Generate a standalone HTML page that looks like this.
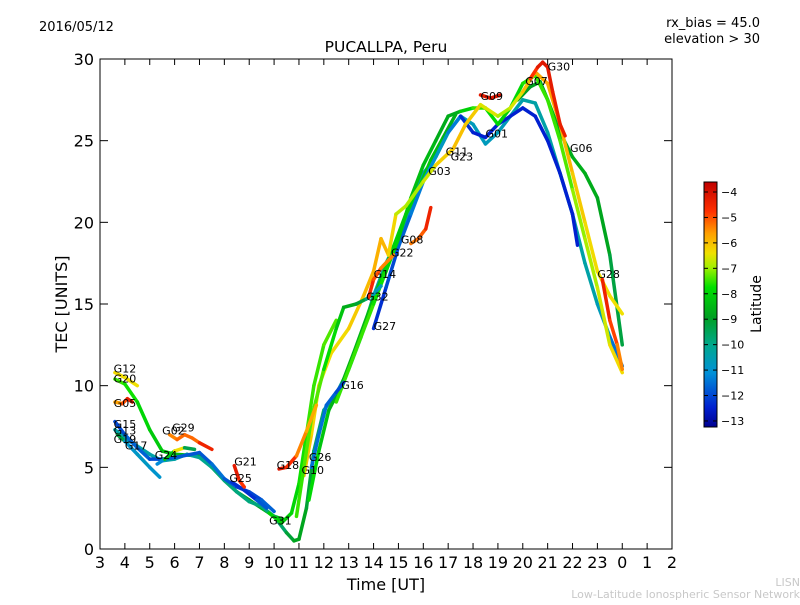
<!DOCTYPE html>
<html><head><meta charset="utf-8"><style>
body{margin:0;background:#fff;}
svg text{font-family:"DejaVu Sans","Liberation Sans",sans-serif;}
</style></head><body>
<svg id="chart" width="800" height="600" xmlns="http://www.w3.org/2000/svg">
<defs>
<linearGradient id="cbg" x1="0" y1="1" x2="0" y2="0">
<stop offset="0" stop-color="#00008f"/>
<stop offset="0.08" stop-color="#0020d0"/>
<stop offset="0.22" stop-color="#0090d8"/>
<stop offset="0.33" stop-color="#00a890"/>
<stop offset="0.45" stop-color="#00a020"/>
<stop offset="0.57" stop-color="#00e000"/>
<stop offset="0.65" stop-color="#a0f000"/>
<stop offset="0.71" stop-color="#f0e000"/>
<stop offset="0.79" stop-color="#ffa000"/>
<stop offset="0.88" stop-color="#ff3000"/>
<stop offset="1" stop-color="#c00000"/>
</linearGradient>
</defs>
<text x="39" y="31" font-size="13">2016/05/12</text>
<text x="760" y="27" font-size="13" text-anchor="end">rx_bias = 45.0</text>
<text x="760" y="43" font-size="13" text-anchor="end">elevation &gt; 30</text>
<text x="386" y="52" font-size="15.5" text-anchor="middle">PUCALLPA, Peru</text>
<g id="marks"></g>
<g id="labels"></g>
<rect x="100" y="59" width="572" height="490" fill="none" stroke="#000" stroke-width="1"/>
<g id="axes"></g>
<text x="386" y="590" font-size="16" text-anchor="middle">Time [UT]</text>
<text transform="translate(67,304) rotate(-90)" font-size="16" text-anchor="middle">TEC [UNITS]</text>
<rect x="704" y="182" width="13" height="245" fill="url(#cbg)" stroke="#000" stroke-width="1"/>
<g id="cbticks"></g>
<text transform="translate(761,304) rotate(-90)" font-size="14" text-anchor="middle">Latitude</text>
<text x="800" y="586" font-size="11" fill="#c8c8c8" text-anchor="end">LISN</text>
<text x="800" y="598" font-size="11" fill="#c8c8c8" text-anchor="end">Low-Latitude Ionospheric Sensor Network</text>
</svg>
<script>
const xTicks=[3,4,5,6,7,8,9,10,11,12,13,14,15,16,17,18,19,20,21,22,23,24,25,26];
const xTickLabels=["3","4","5","6","7","8","9","10","11","12","13","14","15","16","17","18","19","20","21","22","23","0","1","2"];
const yTicks=[0,5,10,15,20,25,30];
const cbTicks=[-4,-5,-6,-7,-8,-9,-10,-11,-12,-13];
// tracks: [time(UT hours), TEC, latitude]
const trackG20=[[3.6,10.4,-8],[4,10.1,-8],[4.5,9,-8.3],[5,7.3,-8.5],[5.5,6,-8.8],[6,5.8,-9],[7,5.7,-9],[7.5,5,-9.2],[8,4.2,-9.5],[8.5,3.5,-9.5],[9,3,-9.5],[9.5,2.5,-9.3],[10,2,-9],[10.4,1.8,-9]];
const trackG19=[[3.6,7.3,-11],[4,6.8,-11],[4.5,6.3,-11],[5,5.8,-11],[5.5,5.4,-11],[6,5.5,-11],[6.5,5.8,-11],[7,5.6,-10.8],[7.5,5,-10.6],[8,4.2,-10.5],[8.5,3.5,-10.5],[9,2.9,-10.5],[9.5,2.6,-10.5],[10,2,-10.5],[10.5,1,-10],[10.8,0.5,-9.5],[11,0.6,-9.3],[11.3,2.5,-9.5],[11.6,6,-10],[12,8.5,-10.5],[12.5,9.5,-11],[13,11,-11],[13.5,13,-11],[14,15.5,-11],[14.5,17.5,-11],[15,19,-11],[15.5,21,-11],[16,23,-11],[16.5,24,-11],[17,25.5,-11],[17.5,26.5,-11.2],[18,26,-11.3],[18.5,24.8,-11.3],[19,25.5,-11.3],[19.5,26.5,-11.2],[20,27.5,-11],[20.5,27.3,-11],[21,25.5,-11],[21.5,23,-11],[22,20.5,-11],[22.5,17.5,-11],[23,15,-11],[23.5,13,-11.5],[24,11.2,-12.5]];
const trackG15=[[3.6,7.8,-12.5],[4,7,-12.3],[4.5,6.2,-12],[5,5.5,-12.3],[5.5,5.5,-12.5],[6,5.6,-12],[7,5.9,-12.5],[7.5,5.2,-12],[8,4.3,-12],[8.5,3.8,-12.5],[9,3.5,-12.5],[9.5,3,-12.3],[10,2.3,-12]];
const trackG17=[[3.7,7,-8.2],[4,6.6,-11.5],[4.5,5.8,-11.5],[5,5,-11.3],[5.4,4.4,-11.8]];
const trackG25=[[8.3,4.1,-12.5],[8.8,3.6,-12.8],[9.3,3,-12.5],[9.7,2.5,-12]];
const trackG31=[[9.8,2.2,-8.5],[10.3,1.6,-8.5],[10.7,2.2,-8.5],[11,4,-8.3],[11.3,7,-8],[11.6,10,-8],[12,12.5,-8],[12.5,14,-7.8]];
const trackG02=[[11.4,3,-8.2],[11.8,6,-8.5],[12.2,8.5,-9],[12.7,10,-9.2],[13.2,12,-9.2],[13.8,14.5,-9],[14.3,16.5,-8.7],[14.8,18.5,-8.5],[15.3,20.5,-8.5],[15.8,22,-8.5],[16.3,23.8,-8.8],[16.8,25.2,-9],[17.3,26.6,-9.3]];
const trackG27=[[14,13.5,-12.8],[14.5,16,-12.5],[15,18.5,-12.3],[15.5,20.5,-12],[16,22.5,-11.8],[16.5,24,-11.5],[17,25.5,-11.3],[17.5,26.5,-12.5],[18,25.5,-12.8],[18.5,25.2,-12.8],[19,26,-12.8],[19.5,26.5,-12.8],[20,27,-12.8],[20.5,26.5,-12.8],[21,25,-12.8],[21.5,23,-12.8],[22,20.5,-12.8],[22.2,18.6,-12.8]];
const trackG30=[[20.3,28.8,-5.5],[20.6,29.5,-4.5],[20.8,29.8,-4.2],[21,29.5,-4.3],[21.2,28,-4.5],[21.5,26,-4.5],[21.7,25.3,-4.5]];
const trackG28=[[23.2,16.5,-4.5],[23.5,14,-4.8],[23.8,12.5,-5.5],[24,11,-6]];
const trackG23=[[11.2,4.5,-6.5],[11.5,7,-6.7],[11.8,10,-7],[12.3,12,-7],[13,13.5,-6.8],[13.6,15.5,-6.5],[14,17,-6.3],[14.3,19,-6.2],[14.6,18,-6.5],[14.9,20.5,-7.2],[15.3,21,-7.5],[16,22.5,-7.5],[16.5,23.5,-7],[17.2,24.5,-6.5],[17.7,26,-6.5],[18.3,27.2,-6.8],[19,26.5,-7.5],[19.5,27,-7.5],[20,28,-6.8],[20.5,29.2,-6.2],[21,28.5,-6],[21.5,26,-6.2],[22,23,-6.5],[22.5,20,-6.8],[23,17,-7],[23.5,15.5,-7],[24,14.4,-7]];
const trackG06=[[19.8,27.5,-9.5],[20.3,28.3,-9.5],[20.7,28.6,-9.5],[21,27.5,-9.5],[21.5,25.5,-9.2],[22,24,-9.2],[22.5,23,-9.2],[23,21.5,-9.3],[23.5,18,-9.5],[24,12.5,-10.2]];
const trackG07=[[12.5,9,-8],[13,11,-8],[13.5,13,-8],[14,15,-8],[14.5,17,-8.3],[15,19,-8.5],[15.5,21.5,-8.8],[16,23.5,-9],[16.5,25,-9],[17,26.5,-9.5],[17.5,26.8,-9],[18,27,-8],[18.5,27,-8],[19,26,-8.5],[19.5,27,-8.5],[20,28.5,-8.2],[20.5,29,-8],[21,27.5,-8],[21.5,25,-8],[22,22,-7.8],[22.5,19,-7.5],[23,16,-7.5],[23.5,12.5,-7],[24,10.8,-6.8]];
const trackG10=[[10.9,2,-8],[11.2,5,-8],[11.5,8,-7.8],[12,11,-8],[12.5,13.5,-8.5],[12.8,14.8,-9],[13.3,15,-9.5],[13.7,15.3,-10],[14,15.6,-11],[14.3,16.1,-11.5]];
const trackG26=[[11.5,5,-12],[11.8,7,-12],[12.1,8.8,-12],[12.5,9.6,-12.3],[12.8,10.2,-12.5]];
const trackG08=[[15.5,18.7,-5.5],[15.8,19,-5.8],[16.1,19.6,-5],[16.3,20.9,-4.3]];
const trackG22=[[13.8,15.4,-4.5],[14,16.5,-5],[14.3,17.2,-5.5],[14.8,18,-6]];
const trackG09=[[18.3,27.8,-4.5],[18.7,27.6,-4.3],[19.1,27.8,-4.2]];
const trackG21=[[8.4,5.1,-4.3],[8.6,4.2,-4.5],[8.8,3.8,-5.5]];
const trackG18=[[10.2,4.9,-4.3],[10.5,5,-4.3],[10.9,5.7,-5.5],[11.3,7.2,-6],[11.7,8.8,-6.3]];
const trackG29=[[5.8,7,-5.5],[6.1,6.7,-6],[6.4,7,-5],[6.7,6.8,-6],[7,6.5,-5],[7.5,6.1,-4.3]];
const trackG05=[[3.6,9,-6],[3.9,8.9,-6],[4.1,9.2,-4.5],[4.3,9,-4.5]];
const trackG12=[[3.6,10.8,-6.8],[4,10.5,-7],[4.5,10,-7]];
const trackG24=[[5.3,5.2,-12.5],[5.6,5.5,-11],[6,6,-6.5],[6.4,6.2,-7.5],[6.8,6.1,-12.5]];
const tracks=[trackG20,trackG19,trackG15,trackG17,trackG25,trackG31,trackG02,trackG27,trackG06,trackG07,trackG23,trackG10,trackG26,trackG30,trackG28,trackG08,trackG22,trackG09,trackG21,trackG18,trackG29,trackG05,trackG12,trackG24];
const satLabels=["G12","G20","G05","G15","G13","G19","G17","G02","G29","G24","G21","G25","G18","G10","G26","G31","G16","G27","G32","G14","G22","G08","G03","G23","G11","G01","G09","G07","G30","G06","G28"];
const satLabelT=[3.55,3.55,3.55,3.55,3.55,3.55,4,5.5,5.9,5.2,8.4,8.2,10.1,11.1,11.4,9.8,12.7,14,13.7,14,14.7,15.1,16.2,17.1,16.9,18.5,18.3,20.1,21,21.9,23];
const satLabelV=[10.8,10.2,8.7,7.4,7,6.5,6.1,7,7.2,5.5,5.1,4.1,4.9,4.6,5.4,1.5,9.8,13.4,15.2,16.6,17.9,18.7,22.9,23.8,24.1,25.2,27.5,28.4,29.3,24.3,16.6];
const sx=t=>100+(t-3)*572/23;
const sy=v=>549-v*490/30;
const cy=l=>192+(-4-l)*25.44;
const stops=[[-13.3,[0,0,143]],[-12.8,[0,32,208]],[-11.7,[0,144,216]],[-10.7,[0,168,144]],[-9.5,[0,160,32]],[-8.2,[0,224,0]],[-7.6,[160,240,0]],[-7,[240,224,0]],[-6,[255,160,0]],[-5,[255,48,0]],[-3.6,[192,0,0]]];
function col(l){
 if(l<=stops[0][0])return 'rgb('+stops[0][1]+')';
 for(let i=1;i<stops.length;i++){if(l<=stops[i][0]){const a=stops[i-1],b=stops[i],f=(l-a[0])/(b[0]-a[0]);
  return 'rgb('+a[1].map((c,k)=>Math.round(c+(b[1][k]-c)*f)).join(',')+')';}}
 return 'rgb('+stops[stops.length-1][1]+')';
}
const NS='http://www.w3.org/2000/svg';
const marks=document.getElementById('marks');
tracks.forEach((tr,ti)=>{
 for(let i=0;i<tr.length-1;i++){
  const a=tr[i],b=tr[i+1];
  const ln=document.createElementNS(NS,'line');
  
  
  ln.setAttribute('x1',sx(a[0]));ln.setAttribute('y1',sy(a[1]));
  ln.setAttribute('x2',sx(b[0]));ln.setAttribute('y2',sy(b[1]));
  ln.setAttribute('stroke',col((a[2]+b[2])/2));ln.setAttribute('stroke-width','3.5');ln.setAttribute('stroke-linecap','round');
  marks.appendChild(ln);
 }
});
const lab=document.getElementById('labels');
satLabels.forEach((s,i)=>{
 const t=document.createElementNS(NS,'text');
 
 
 t.setAttribute('x',sx(satLabelT[i]));t.setAttribute('y',sy(satLabelV[i]));t.setAttribute('font-size','11');
 t.textContent=s;lab.appendChild(t);
});
const ax=document.getElementById('axes');
function line(x1,y1,x2,y2){const l=document.createElementNS(NS,'line');
 
 
 l.setAttribute('x1',x1);l.setAttribute('y1',y1);l.setAttribute('x2',x2);l.setAttribute('y2',y2);l.setAttribute('stroke','#000');return l;}
xTicks.forEach((v,i)=>{const x=sx(v);
 ax.appendChild(line(x,549,x,543));ax.appendChild(line(x,59,x,65));
 const t=document.createElementNS(NS,'text');
 
 
 t.setAttribute('x',x);t.setAttribute('y',568);t.setAttribute('font-size','16');t.setAttribute('text-anchor','middle');
 t.textContent=xTickLabels[i];ax.appendChild(t);});
yTicks.forEach(v=>{const y=sy(v);
 ax.appendChild(line(100,y,108,y));ax.appendChild(line(672,y,664,y));
 const t=document.createElementNS(NS,'text');
 
 
 t.setAttribute('x',94);t.setAttribute('y',y+6);t.setAttribute('font-size','16');t.setAttribute('text-anchor','end');
 t.textContent=v;ax.appendChild(t);});
const cb=document.getElementById('cbticks');
cbTicks.forEach(v=>{const y=cy(v);
 cb.appendChild(line(704,y,708,y));cb.appendChild(line(717,y,713,y));
 const t=document.createElementNS(NS,'text');
 
 
 t.setAttribute('x',721);t.setAttribute('y',y+4);t.setAttribute('font-size','11');
 t.textContent='\u2212'+Math.abs(v);cb.appendChild(t);});
</script>
</body></html>
